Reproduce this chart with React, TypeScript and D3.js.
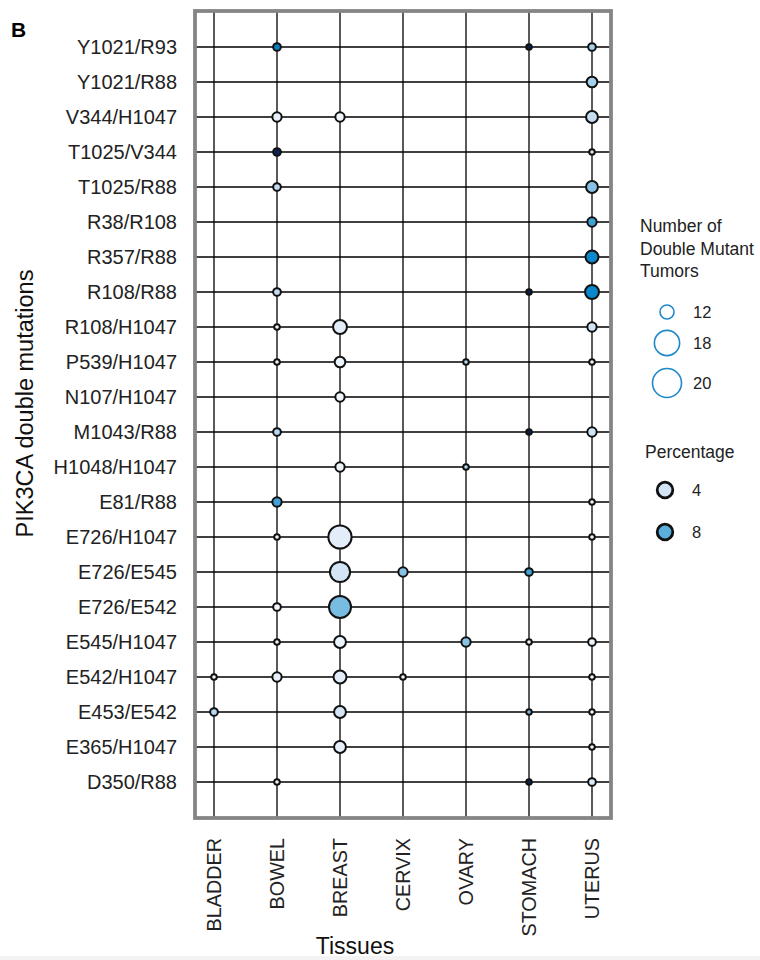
import React from "react";
import * as d3 from "d3";

// Tissue columns and mutation-pair rows
const tissues = ["BLADDER", "BOWEL", "BREAST", "CERVIX", "OVARY", "STOMACH", "UTERUS"];
const mutations = [
  "Y1021/R93", "Y1021/R88", "V344/H1047", "T1025/V344", "T1025/R88", "R38/R108",
  "R357/R88", "R108/R88", "R108/H1047", "P539/H1047", "N107/H1047", "M1043/R88",
  "H1048/H1047", "E81/R88", "E726/H1047", "E726/E545", "E726/E542", "E545/H1047",
  "E542/H1047", "E453/E542", "E365/H1047", "D350/R88",
];

// [mutation pair, number of double mutant tumors, percentage]
type Dot = [string, number, number];
const bladderDots: Dot[] = [
  ["E542/H1047", 1, 1],
  ["E453/E542", 2, 5],
];
const bowelDots: Dot[] = [
  ["Y1021/R93", 2, 11.5],
  ["V344/H1047", 3, 2],
  ["T1025/V344", 2, 16],
  ["T1025/R88", 2, 4.5],
  ["R108/R88", 2, 4.5],
  ["R108/H1047", 1, 1],
  ["P539/H1047", 1, 1],
  ["M1043/R88", 2, 5],
  ["E81/R88", 3, 9],
  ["E726/H1047", 1, 1],
  ["E726/E542", 2, 1],
  ["E545/H1047", 1, 1],
  ["E542/H1047", 3, 2],
  ["D350/R88", 1, 1],
];
const breastDots: Dot[] = [
  ["V344/H1047", 3, 1],
  ["R108/H1047", 7, 2.5],
  ["P539/H1047", 4, 1.5],
  ["N107/H1047", 3, 1],
  ["H1048/H1047", 3, 1.5],
  ["E726/H1047", 20, 2.5],
  ["E726/E545", 15, 4],
  ["E726/E542", 18, 7],
  ["E545/H1047", 5, 1.5],
  ["E542/H1047", 6, 2.5],
  ["E453/E542", 5, 4],
  ["E365/H1047", 5, 2],
];
const cervixDots: Dot[] = [
  ["E726/E545", 3, 6.5],
  ["E542/H1047", 1, 1],
];
const ovaryDots: Dot[] = [
  ["P539/H1047", 1, 5],
  ["H1048/H1047", 1, 5],
  ["E545/H1047", 3, 6.5],
];
const stomachDots: Dot[] = [
  ["Y1021/R93", 1, 16],
  ["R108/R88", 1, 16],
  ["M1043/R88", 1, 16],
  ["E726/E545", 2, 9],
  ["E545/H1047", 1, 1],
  ["E453/E542", 1, 7],
  ["D350/R88", 1, 16],
];
const uterusDots: Dot[] = [
  ["Y1021/R93", 2, 5.5],
  ["Y1021/R88", 4, 5.5],
  ["V344/H1047", 5, 4.5],
  ["T1025/V344", 1, 4],
  ["T1025/R88", 5, 6.5],
  ["R38/R108", 3, 9],
  ["R357/R88", 6, 11],
  ["R108/R88", 7, 11],
  ["R108/H1047", 3, 4],
  ["P539/H1047", 1, 1],
  ["M1043/R88", 3, 4],
  ["E81/R88", 1, 1],
  ["E726/H1047", 1, 1],
  ["E545/H1047", 2, 1.5],
  ["E542/H1047", 1, 1],
  ["E453/E542", 1, 1],
  ["E365/H1047", 1, 1],
  ["D350/R88", 2, 3],
];

// Legend entries
const sizeLegendValues = [12, 18, 20];
const colorLegendValues = [4, 8];

const tissueDots: [string, Dot[]][] = [
  ["BLADDER", bladderDots],
  ["BOWEL", bowelDots],
  ["BREAST", breastDots],
  ["CERVIX", cervixDots],
  ["OVARY", ovaryDots],
  ["STOMACH", stomachDots],
  ["UTERUS", uterusDots],
];

const FONT = "'Liberation Sans', Arial, Helvetica, sans-serif";

export default function App() {
  const W = 760;
  const H = 960;
  const frame = { left: 195, right: 611, top: 11, bottom: 818 };

  const x = d3.scalePoint<string>().domain(tissues).range([214, 592]);
  const y = d3.scalePoint<string>().domain(mutations).range([47, 782]);

  const r = d3.scaleSqrt().domain([1, 20]).range([2.8, 11.6]);
  const legendR = d3.scaleLinear().domain([12, 20]).range([7, 14.5]);
  const color = d3
    .scaleLinear<string>()
    .domain([0, 4, 8, 11, 16])
    .range(["#fafcff", "#d3e4f5", "#5aaedc", "#0a88cb", "#0b2352"]);

  const points = tissueDots.flatMap(([t, list]) =>
    list.map(([m, n, p]) => ({ t, m, n, p }))
  );
  // draw larger bubbles first so small ones stay visible
  points.sort((a, b) => b.n - a.n);

  return (
    <div style={{ position: "absolute", left: 0, top: 0 }}>
      <svg width={W} height={H} style={{ display: "block", background: "#fff" }} fontFamily={FONT}>
        <rect x={0} y={956} width={W} height={4} fill="#f3f3f3" />

        <text x={11} y={37} fontSize={21} fontWeight="bold" fill="#000">B</text>

        {/* grid */}
        <g stroke="#000" strokeWidth={1.3}>
          {tissues.map((t) => (
            <line key={t} x1={x(t)} x2={x(t)} y1={frame.top} y2={frame.bottom} />
          ))}
          {mutations.map((m) => (
            <line key={m} x1={frame.left} x2={frame.right} y1={y(m)} y2={y(m)} />
          ))}
        </g>

        {/* frame */}
        <rect
          x={frame.left}
          y={frame.top}
          width={frame.right - frame.left}
          height={frame.bottom - frame.top}
          fill="none"
          stroke="#858585"
          strokeWidth={3.8}
        />

        {/* bubbles */}
        <g stroke="#111" strokeWidth={2}>
          {points.map((d) => (
            <circle
              key={d.t + d.m}
              cx={x(d.t)}
              cy={y(d.m)}
              r={r(d.n)}
              fill={color(d.p)}
            />
          ))}
        </g>

        {/* row labels */}
        <g fontSize={20} fill="#222" textAnchor="end">
          {mutations.map((m) => (
            <text key={m} x={177} y={(y(m) as number) + 7}>{m}</text>
          ))}
        </g>

        {/* column labels */}
        <g fontSize={19.8} fill="#222" textAnchor="end">
          {tissues.map((t) => (
            <text
              key={t}
              transform={`translate(${(x(t) as number) + 7},838) rotate(-90)`}
            >
              {t}
            </text>
          ))}
        </g>

        <text x={355} y={954} fontSize={23} textAnchor="middle" fill="#111">Tissues</text>
        <text
          transform="translate(33,403.5) rotate(-90)"
          fontSize={23.5}
          textAnchor="middle"
          fill="#111"
        >
          PIK3CA double mutations
        </text>

        {/* size legend */}
        <g fontSize={17.5} fill="#222">
          <text x={640} y={232}>Number of</text>
          <text x={640} y={255}>Double Mutant</text>
          <text x={640} y={277}>Tumors</text>
        </g>
        {sizeLegendValues.map((v, i) => {
          const cy = [312, 343, 383][i];
          return (
            <g key={v}>
              <circle cx={667} cy={cy} r={legendR(v)} fill="none" stroke="#1f88c8" strokeWidth={1.6} />
              <text x={693} y={cy + 6} fontSize={16.5} fill="#222">{v}</text>
            </g>
          );
        })}

        <text x={645} y={458} fontSize={17.5} fill="#222">Percentage</text>
        {colorLegendValues.map((v, i) => {
          const cy = [490, 532][i];
          return (
            <g key={v}>
              <circle cx={665} cy={cy} r={7.8} fill={color(v)} stroke="#111" strokeWidth={2.8} />
              <text x={692} y={cy + 6} fontSize={16.5} fill="#222">{v}</text>
            </g>
          );
        })}
      </svg>
    </div>
  );
}
